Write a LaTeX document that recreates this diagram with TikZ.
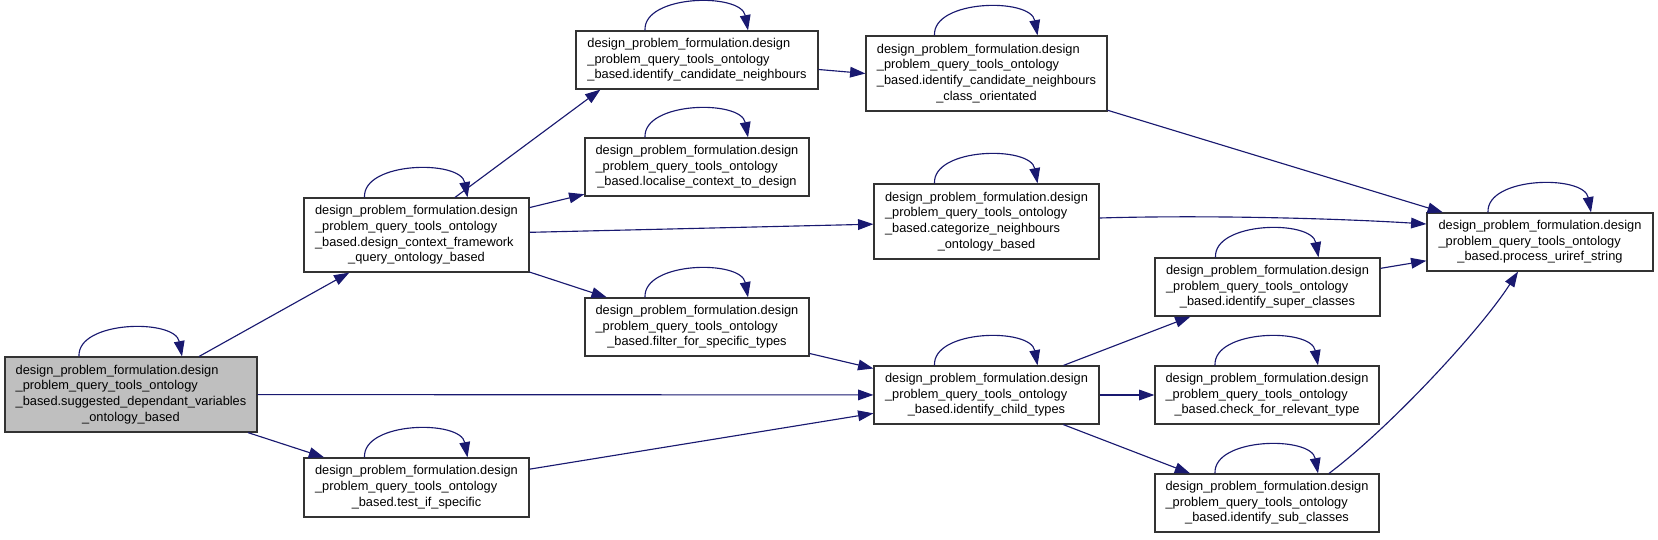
\documentclass[tikz,border=0pt]{standalone}
\usepackage{fontspec}
\setmainfont{Liberation Sans}
\usetikzlibrary{arrows.meta,calc}
\definecolor{edgeblue}{HTML}{191970}
\definecolor{boxgray}{HTML}{BFBFBF}
\definecolor{boxline}{HTML}{333333}
\newcommand{\lblthree}[3]{\begin{tabular}{@{}l@{}}#1\\#2\\\multicolumn{1}{@{}c@{}}{#3}\end{tabular}}
\newcommand{\lblfour}[4]{\begin{tabular}{@{}l@{}}#1\\#2\\#3\\\multicolumn{1}{@{}c@{}}{#4}\end{tabular}}
\newcommand{\Lone}{design\_problem\_formulation.design}
\newcommand{\Ltwo}{\_problem\_query\_tools\_ontology}
\tikzset{
  fnbox/.style={draw=boxline, line width=0.9pt, rectangle, inner sep=0pt, fill=white,
    font=\fontsize{9.6}{11.8}\selectfont},
  edge/.style={draw=edgeblue, line width=0.85pt, -{Triangle[length=11.5pt,width=8pt]}},
}
\newcommand{\selfloop}[1]{\draw[edge] ($(#1.north)+(-52,0)$) .. controls ($(#1.north)+(-54,-36)$) and ($(#1.north)+(44,-38)$) .. ($(#1.north)+(51,0)$);}
\begin{document}
\begin{tikzpicture}[x=0.75pt,y=-0.75pt]
\useasboundingbox (0,0) rectangle (1658,539);
% nodes
\node[fnbox, fill=boxgray, minimum width=252*0.75pt, minimum height=75*0.75pt] (main) at (131,394.5)
  {\lblfour{\Lone}{\Ltwo}{\_based.suggested\_dependant\_variables}{\_ontology\_based}};
\node[fnbox, minimum width=225*0.75pt, minimum height=74*0.75pt] (ctx) at (416.5,235)
  {\lblfour{\Lone}{\Ltwo}{\_based.design\_context\_framework}{\_query\_ontology\_based}};
\node[fnbox, minimum width=225*0.75pt, minimum height=59*0.75pt] (test) at (416.5,487.5)
  {\lblthree{\Lone}{\Ltwo}{\_based.test\_if\_specific}};
\node[fnbox, minimum width=242*0.75pt, minimum height=58*0.75pt] (cand) at (697,60)
  {\lblthree{\Lone}{\Ltwo}{\_based.identify\_candidate\_neighbours}};
\node[fnbox, minimum width=224*0.75pt, minimum height=58*0.75pt] (local) at (697,167)
  {\lblthree{\Lone}{\Ltwo}{\_based.localise\_context\_to\_design}};
\node[fnbox, minimum width=224*0.75pt, minimum height=58*0.75pt] (filter) at (697,327)
  {\lblthree{\Lone}{\Ltwo}{\_based.filter\_for\_specific\_types}};
\node[fnbox, minimum width=241*0.75pt, minimum height=75*0.75pt] (orient) at (986.5,73.5)
  {\lblfour{\Lone}{\Ltwo}{\_based.identify\_candidate\_neighbours}{\_class\_orientated}};
\node[fnbox, minimum width=225*0.75pt, minimum height=75*0.75pt] (categ) at (986.5,221.5)
  {\lblfour{\Lone}{\Ltwo}{\_based.categorize\_neighbours}{\_ontology\_based}};
\node[fnbox, minimum width=225*0.75pt, minimum height=58*0.75pt] (child) at (986.5,395)
  {\lblthree{\Lone}{\Ltwo}{\_based.identify\_child\_types}};
\node[fnbox, minimum width=225*0.75pt, minimum height=58*0.75pt] (super) at (1267.5,287)
  {\lblthree{\Lone}{\Ltwo}{\_based.identify\_super\_classes}};
\node[fnbox, minimum width=224*0.75pt, minimum height=58*0.75pt] (check) at (1267,395)
  {\lblthree{\Lone}{\Ltwo}{\_based.check\_for\_relevant\_type}};
\node[fnbox, minimum width=224*0.75pt, minimum height=58*0.75pt] (sub) at (1267,503)
  {\lblthree{\Lone}{\Ltwo}{\_based.identify\_sub\_classes}};
\node[fnbox, minimum width=226*0.75pt, minimum height=58*0.75pt] (process) at (1540,242)
  {\lblthree{\Lone}{\Ltwo}{\_based.process\_uriref\_string}};
% self loops
\foreach \n in {main,ctx,test,cand,local,filter,orient,categ,child,super,check,sub,process}{\selfloop{\n}}
% edges
\draw[edge] (main) -- (ctx);
\draw[edge] (main) -- (child);
\draw[edge] (main) -- (test);
\draw[edge] ($(ctx.north)+(38.5,0)$) -- ($(cand.south west)+(25,0)$);
\draw[edge] (ctx) -- (local);
\draw[edge] (ctx) -- (categ);
\draw[edge] (ctx) -- (filter);
\draw[edge] ($(cand.east)+(0,9.5)$) -- (orient.west);
\draw[edge] (orient) -- (process);
\draw[edge] ($(categ.east)+(0,-3.5)$) .. controls ($(categ.east)+(101,-6.5)$) and ($(process.west)+(-97,-24)$) .. ($(process.west)+(0,-18)$);
\draw[edge] (filter) -- (child);
\draw[edge] (test) -- (child);
\draw[edge] (child) -- (super);
\draw[edge] (child) -- (check);
\draw[edge] (child) -- (sub);
\draw[edge] (super) -- (process);
\draw[edge] ($(sub.north)+(62,0)$) .. controls ($(sub.north)+(123,-46)$) and ($(process.south)+(-60,59)$) .. ($(process.south)+(-22,0)$);
\end{tikzpicture}
\end{document}
